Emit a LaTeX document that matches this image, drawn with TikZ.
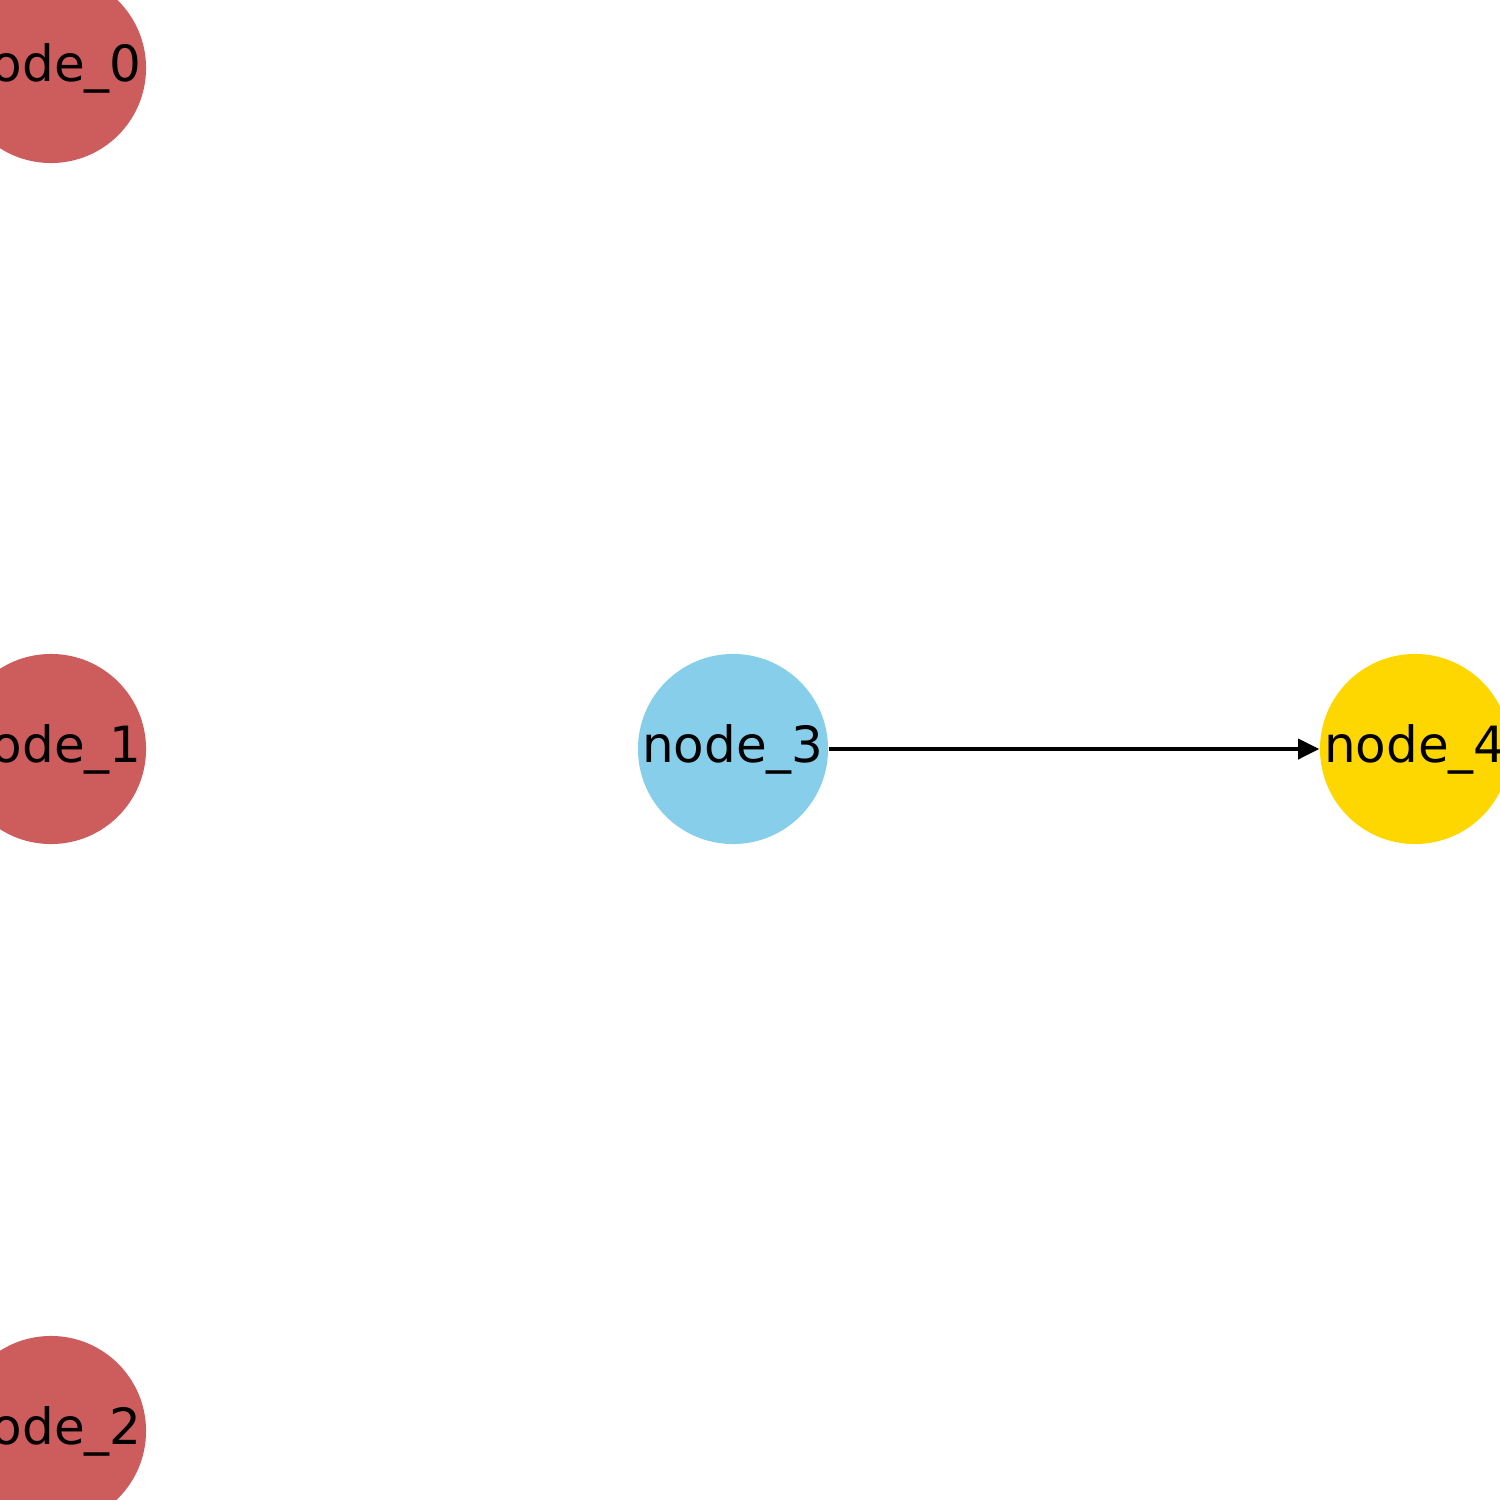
\documentclass[tikz,border=0pt]{standalone}
\usepackage{fontspec}
\setmainfont{DejaVu Sans}
\usetikzlibrary{arrows.meta}
\definecolor{nred}{HTML}{CD5C5C}
\definecolor{nblue}{HTML}{87CEEB}
\definecolor{ngold}{HTML}{FFD700}
\newcommand{\lbl}[1]{\raisebox{-0.035cm}{#1}}
\begin{document}
\begin{tikzpicture}[x=0.01cm,y=-0.01cm,
  gnode/.style={circle,minimum size=1.9cm,inner sep=0pt,font=\fontsize{14.2pt}{16pt}\selectfont,text=black},
  edge/.style={line width=0.035cm,-{Triangle[length=0.21cm,width=0.2cm]}}]
\useasboundingbox (0,0) rectangle (1500,1500);
\begin{scope}
\clip (0,0) rectangle (1500,1500);
\node[gnode,fill=nred] (n0) at (51,68) {\lbl{node\_0}};
\node[gnode,fill=nred] (n1) at (51,749) {\lbl{node\_1}};
\node[gnode,fill=nred] (n2) at (51,1431) {\lbl{node\_2}};
\node[gnode,fill=nblue] (n3) at (733,749) {\lbl{node\_3}};
\node[gnode,fill=ngold] (n4) at (1415,749) {\lbl{node\_4}};
\draw[edge] (n3) -- (n4);
\end{scope}
\end{tikzpicture}
\end{document}
